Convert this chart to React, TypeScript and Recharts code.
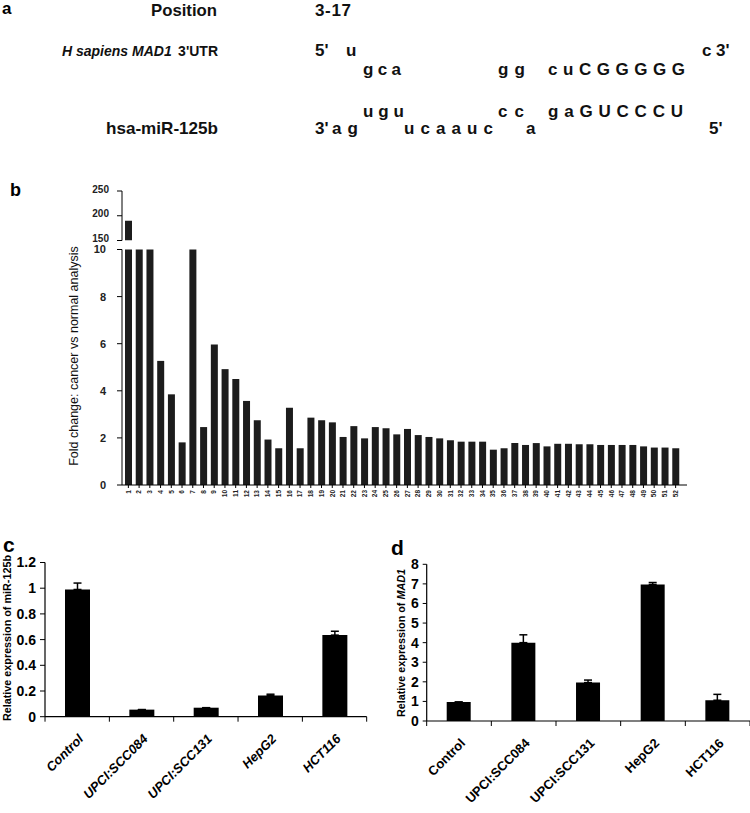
import React from 'react';
import { BarChart, Bar, XAxis, YAxis, ErrorBar } from 'recharts';

const SANS = '"Liberation Sans", Arial, sans-serif';

// panel b - fold change cancer vs normal, samples 1..52
const sampleIds = [
  '1', '2', '3', '4', '5', '6', '7', '8', '9', '10', '11', '12', '13',
  '14', '15', '16', '17', '18', '19', '20', '21', '22', '23', '24', '25', '26',
  '27', '28', '29', '30', '31', '32', '33', '34', '35', '36', '37', '38', '39',
  '40', '41', '42', '43', '44', '45', '46', '47', '48', '49', '50', '51', '52',
];
const foldChange = [
  190, 12, 12, 5.27, 3.85, 1.81, 12, 2.46, 5.97, 4.92, 4.5, 3.57, 2.75,
  1.93, 1.56, 3.28, 1.56, 2.86, 2.75, 2.66, 2.04, 2.5, 1.98, 2.46, 2.41, 2.15,
  2.38, 2.12, 2.04, 1.98, 1.9, 1.84, 1.84, 1.84, 1.5, 1.56, 1.78, 1.7, 1.78,
  1.64, 1.75, 1.75, 1.73, 1.73, 1.7, 1.7, 1.7, 1.7, 1.64, 1.59, 1.59, 1.56,
];
const lowerTicks = [0, 2, 4, 6, 8, 10];
const upperTicks = [150, 200, 250];
const BREAK_AT = 150;

// panels c and d
const cellLines = ['Control', 'UPCI:SCC084', 'UPCI:SCC131', 'HepG2', 'HCT116'];
const mir125b = [0.99, 0.055, 0.07, 0.165, 0.635];
const mir125bErr = [0.05, 0, 0, 0.01, 0.03];
const mirTicks = [0, 0.2, 0.4, 0.6, 0.8, 1, 1.2];
const mad1 = [0.97, 4.0, 1.96, 6.97, 1.06];
const mad1Err = [0, 0.4, 0.13, 0.1, 0.3];
const madTicks = [0, 1, 2, 3, 4, 5, 6, 7, 8];

// panel a - sequence alignment text (len = width the group covers, spaced letters)
const seqRows = [
  { t: '3-17', x: 315, y: 16, len: 36 },
  { t: "5'", x: 315, y: 56 },
  { t: 'u', x: 346, y: 56 },
  { t: 'c', x: 702, y: 56 },
  { t: "3'", x: 716, y: 56 },
  { t: 'gca', x: 363, y: 75, len: 38 },
  { t: 'gg', x: 498, y: 75, len: 27 },
  { t: 'cuCGGGGG', x: 548, y: 75, len: 137 },
  { t: 'ugu', x: 363, y: 117, len: 41 },
  { t: 'cc', x: 498, y: 117, len: 26 },
  { t: 'gaGUCCCU', x: 548, y: 117, len: 135 },
  { t: "3'", x: 315, y: 134 },
  { t: 'ag', x: 332, y: 134, len: 26 },
  { t: 'ucaauc', x: 404, y: 134, len: 89 },
  { t: 'a', x: 526, y: 134 },
  { t: "5'", x: 709, y: 134 },
];

const bData = sampleIds.map((id, i) => ({
  id,
  lower: foldChange[i],
  upper: foldChange[i] >= BREAK_AT ? foldChange[i] : null,
}));
const cData = cellLines.map((name, i) => ({ name, value: mir125b[i], err: [0, mir125bErr[i]] }));
const dData = cellLines.map((name, i) => ({ name, value: mad1[i], err: [0, mad1Err[i]] }));

function SampleTick(props: any) {
  const { x, y, payload } = props;
  return (
    <text x={x} y={y} transform={`rotate(-90 ${x} ${y})`} textAnchor="end" dy="0.35em"
      fontSize={6.5} fontWeight="bold" fontFamily={SANS} fill="#222">
      {payload.value}
    </text>
  );
}

function LineTick(props: any) {
  const { x, y, payload, index, band, italic } = props;
  const lx = x + 7;
  const ly = y + 23;
  return (
    <g>
      <line x1={x - band / 2} x2={x - band / 2} y1={y} y2={y + 5} stroke="#000" />
      {index === cellLines.length - 1 && (
        <line x1={x + band / 2} x2={x + band / 2} y1={y} y2={y + 5} stroke="#000" />
      )}
      <text x={lx} y={ly} transform={`rotate(-45 ${lx} ${ly})`} textAnchor="end"
        fontSize={13} fontWeight="bold" fontStyle={italic ? 'italic' : 'normal'}
        fontFamily={SANS} fill="#000">
        {payload.value}
      </text>
    </g>
  );
}

const yTickStyle = { fontSize: 14, fontWeight: 'bold', fontFamily: SANS, fill: '#000' };
const bTickStyle = { fontSize: 11, fontWeight: 'bold', fontFamily: SANS, fill: '#222' };

export default function App() {
  return (
    <div style={{ position: 'absolute', left: 0, top: 0, width: 750, height: 813, background: '#fff' }}>
      <svg width={750} height={813} style={{ position: 'absolute', left: 0, top: 0 }}>
        <g fontFamily={SANS} fontWeight="bold" fill="#000">
          <text x={2} y={14} fontSize={17}>a</text>
          <text x={10} y={196} fontSize={18}>b</text>
          <text x={3} y={552} fontSize={21}>c</text>
          <text x={391} y={555} fontSize={21}>d</text>
        </g>
        <g fontFamily={SANS} fontWeight="bold" fontSize={17} fill="#111">
          <text x={217} y={16} textAnchor="end" textLength={66} lengthAdjust="spacingAndGlyphs">Position</text>
          <text x={62} y={56} fontSize={14} fontStyle="italic">H sapiens MAD1</text>
          <text x={218} y={56} fontSize={14} textAnchor="end">3'UTR</text>
          <text x={218} y={134} textAnchor="end" textLength={112} lengthAdjust="spacingAndGlyphs">hsa-miR-125b</text>
          {seqRows.map((r, i) => (
            <text key={i} x={r.x} y={r.y} textLength={r.len} lengthAdjust={r.len ? 'spacing' : undefined}>{r.t}</text>
          ))}
        </g>
        <text x={74} y={356} transform="rotate(-90 74 356)" textAnchor="middle" dy="0.35em"
          fontSize={12.5} fontFamily={SANS} fill="#111">
          Fold change: cancer vs  normal analysis
        </text>
        <text x={6.5} y={638} transform="rotate(-90 6.5 638)" textAnchor="middle" dy="0.35em"
          fontSize={11.5} fontWeight="bold" fontFamily={SANS} fill="#000"
          textLength={166} lengthAdjust="spacingAndGlyphs">
          Relative expression of miR-125b
        </text>
        <text x={401} y={643} transform="rotate(-90 401 643)" textAnchor="middle" dy="0.35em"
          fontSize={11.5} fontWeight="bold" fontFamily={SANS} fill="#000"
          textLength={148} lengthAdjust="spacingAndGlyphs">
          Relative expression of <tspan fontStyle="italic">MAD1</tspan>
        </text>
      </svg>

      {/* panel b, upper segment above the axis break */}
      <div style={{ position: 'absolute', left: 0, top: 180 }}>
        <BarChart width={700} height={68} data={bData} barSize={7}
          margin={{ top: 11, right: 13, bottom: 7.5, left: 0 }}>
          <XAxis dataKey="id" hide padding={{ left: 1, right: 6 }} />
          <YAxis width={122} domain={[150, 250]} ticks={upperTicks} allowDataOverflow interval={0}
            tickSize={5} tickMargin={8} tick={{ ...bTickStyle, fontSize: 10, dy: -2 }}
            axisLine={{ stroke: '#000' }} tickLine={{ stroke: '#000' }} />
          <Bar dataKey="upper" fill="#1c1c1c" isAnimationActive={false} />
        </BarChart>
      </div>

      {/* panel b, lower segment 0-10 */}
      <div style={{ position: 'absolute', left: 0, top: 240 }}>
        <BarChart width={700} height={280} data={bData} barSize={7}
          margin={{ top: 9.5, right: 13, bottom: 0, left: 0 }}>
          <XAxis dataKey="id" interval={0} height={35} padding={{ left: 1, right: 6 }}
            tick={<SampleTick />} tickSize={3} tickMargin={2}
            axisLine={{ stroke: '#000' }} tickLine={{ stroke: '#000' }} />
          <YAxis width={122} domain={[0, 10]} ticks={lowerTicks} allowDataOverflow interval={0}
            tickSize={5} tickMargin={11} tick={bTickStyle}
            axisLine={{ stroke: '#000' }} tickLine={{ stroke: '#000' }} />
          <Bar dataKey="lower" fill="#1c1c1c" isAnimationActive={false} />
        </BarChart>
      </div>

      {/* panel c */}
      <div style={{ position: 'absolute', left: 0, top: 550 }}>
        <BarChart width={375} height={263} data={cData} barSize={25}
          margin={{ top: 12.5, right: 8.3, bottom: 0, left: 0 }}>
          <XAxis dataKey="name" interval={0} height={96.3} tickLine={false} tickSize={0} tickMargin={0}
            tick={<LineTick band={64.3} italic />} axisLine={{ stroke: '#000', strokeWidth: 1.2 }} />
          <YAxis width={45} domain={[0, 1.2]} ticks={mirTicks} interval={0} tickSize={5} tickMargin={4}
            tick={yTickStyle} axisLine={{ stroke: '#000', strokeWidth: 1.2 }} tickLine={{ stroke: '#000' }} />
          <Bar dataKey="value" fill="#000" isAnimationActive={false}>
            <ErrorBar dataKey="err" direction="y" width={4} stroke="#000" strokeWidth={1.5} />
          </Bar>
        </BarChart>
      </div>

      {/* panel d */}
      <div style={{ position: 'absolute', left: 375, top: 550 }}>
        <BarChart width={375} height={263} data={dData} barSize={24}
          margin={{ top: 14.3, right: 0, bottom: 0, left: 0 }}>
          <XAxis dataKey="name" interval={0} height={92} tickLine={false} tickSize={0} tickMargin={0}
            tick={<LineTick band={64.7} />} axisLine={{ stroke: '#000', strokeWidth: 1.2 }} />
          <YAxis width={51.7} domain={[0, 8]} ticks={madTicks} interval={0} tickSize={4} tickMargin={4}
            tick={yTickStyle} axisLine={{ stroke: '#000', strokeWidth: 1.2 }} tickLine={{ stroke: '#000' }} />
          <Bar dataKey="value" fill="#000" isAnimationActive={false}>
            <ErrorBar dataKey="err" direction="y" width={4} stroke="#000" strokeWidth={1.5} />
          </Bar>
        </BarChart>
      </div>
    </div>
  );
}
